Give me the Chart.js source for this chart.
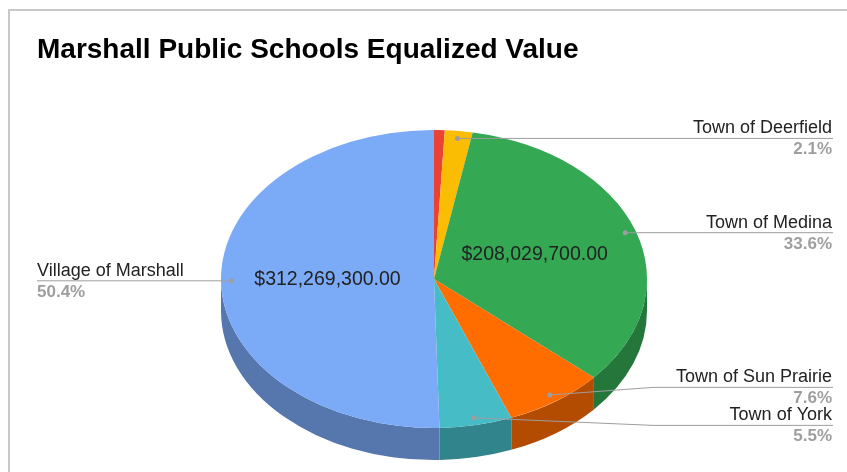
<!DOCTYPE html>
<html lang="en">
<head>
<meta charset="UTF-8">
<title>Marshall Public Schools Equalized Value</title>
<script src="https://cdn.jsdelivr.net/npm/chart.js"></script>
<style>
  body { margin: 0; background: #fff; }
  canvas { display: block; }
</style>
</head>
<body>
<canvas id="pie" width="847" height="472"></canvas>
<script>
// data, in sheet order (first slice starts at 12 o'clock, clockwise)
const chartTitle = 'Marshall Public Schools Equalized Value';
const categories = ['Other', 'Town of Deerfield', 'Town of Medina', 'Town of Sun Prairie', 'Town of York', 'Village of Marshall'];
const values = [5000000, 13000000, 208029700, 47100000, 34100000, 312269300];
const topColors = ['#EA4335', '#FBBC04', '#34A853', '#FF6D01', '#46BDC6', '#7BAAF7'];
const sideColors = ['#A32F25', '#B08403', '#24763A', '#B34C01', '#31848B', '#5677AD'];

// look of the tilted pie
const RX = 213, RY = 149, DEPTH = 32;
const FONT = '"Liberation Sans", Arial, sans-serif';
const LABEL_GAP = 38;

function tilt(chart) {
    const arc = chart.getDatasetMeta(0).data[0];
    const r = arc.outerRadius;
    return { cx: arc.x, cy: arc.y, r: r, sx: RX / r, sy: RY / r };
}

function money(v) {
    return '$' + v.toLocaleString('en-US', { minimumFractionDigits: 2, maximumFractionDigits: 2 });
}

const pie3d = {
    id: 'pie3d',
    beforeDraw(chart) {
        const ctx = chart.ctx;
        ctx.save();
        // frame of the sheet chart
        ctx.fillStyle = '#c8c8c8';
        ctx.fillRect(8, 9, chart.width - 8, 2);
        ctx.fillRect(8, 9, 2, chart.height - 9);
        // title
        ctx.fillStyle = '#000';
        ctx.font = 'bold 28px ' + FONT;
        ctx.textAlign = 'left';
        ctx.textBaseline = 'alphabetic';
        ctx.fillText(chartTitle, 37, 58);
        ctx.restore();
    },
    beforeDatasetsDraw(chart) {
        const ctx = chart.ctx;
        const t = tilt(chart);
        ctx.save();
        ctx.translate(t.cx, t.cy);
        ctx.scale(t.sx, t.sy);
        ctx.translate(-t.cx, -t.cy);
        const d = DEPTH / t.sy;
        // side walls, only the front half shows
        chart.getDatasetMeta(0).data.forEach((arc, i) => {
            const s = Math.max(arc.startAngle, 0);
            const e = Math.min(arc.endAngle, Math.PI);
            if (e <= s) return;
            ctx.beginPath();
            ctx.arc(t.cx, t.cy, t.r, s, e);
            ctx.arc(t.cx, t.cy + d, t.r, e, s, true);
            ctx.closePath();
            ctx.fillStyle = sideColors[i];
            ctx.fill();
        });
    },
    afterDatasetsDraw(chart) {
        const ctx = chart.ctx;
        ctx.restore();
        const t = tilt(chart);
        const meta = chart.getDatasetMeta(0);
        const total = values.reduce((a, b) => a + b, 0);
        const right = [], left = [];

        ctx.save();
        meta.data.forEach((arc, i) => {
            const pct = values[i] / total * 100;
            const mid = (arc.startAngle + arc.endAngle) / 2;
            const ex = Math.cos(mid), ey = Math.sin(mid);
            if (pct >= 20) {
                ctx.fillStyle = '#222';
                ctx.font = '19.5px ' + FONT;
                ctx.textAlign = 'center';
                ctx.textBaseline = 'middle';
                ctx.fillText(money(values[i]), t.cx + ex * t.r * 0.5 * t.sx, t.cy + ey * t.r * 0.5 * t.sy);
            }
            if (pct < 1) return;
            const item = {
                i: i, pct: pct,
                x: t.cx + ex * t.r * 0.95 * t.sx,
                y: t.cy + ey * t.r * 0.95 * t.sy
            };
            item.lineY = item.y;
            (ex >= 0 ? right : left).push(item);
        });

        // keep labels on one side from overlapping
        [right, left].forEach(list => {
            list.sort((a, b) => a.y - b.y);
            for (let k = 1; k < list.length; k++) {
                const diff = list[k].lineY - list[k - 1].lineY;
                if (diff < LABEL_GAP) {
                    const push = (LABEL_GAP - diff) / 2;
                    list[k - 1].lineY -= push;
                    list[k].lineY += push;
                }
            }
        });

        function drawLabel(item, side) {
            const kinkX = side === 'right' ? t.cx + RX + 6 : t.cx - RX - 6;
            const endX = side === 'right' ? 833 : 37;
            ctx.strokeStyle = '#9e9e9e';
            ctx.lineWidth = 1;
            ctx.beginPath();
            ctx.moveTo(item.x, item.y);
            ctx.lineTo(kinkX, item.lineY);
            ctx.lineTo(endX, item.lineY);
            ctx.stroke();
            ctx.fillStyle = '#9e9e9e';
            ctx.beginPath();
            ctx.arc(item.x, item.y, 2.5, 0, Math.PI * 2);
            ctx.fill();

            ctx.textAlign = side === 'right' ? 'right' : 'left';
            ctx.textBaseline = 'alphabetic';
            const tx = side === 'right' ? 832 : 37;
            ctx.fillStyle = '#222';
            ctx.font = '18px ' + FONT;
            ctx.fillText(categories[item.i], tx, item.lineY - 5);
            ctx.fillStyle = '#9e9e9e';
            ctx.font = 'bold 17px ' + FONT;
            ctx.fillText(item.pct.toFixed(1) + '%', tx, item.lineY + 16);
        }
        right.forEach(it => drawLabel(it, 'right'));
        left.forEach(it => drawLabel(it, 'left'));
        ctx.restore();
    }
};

new Chart(document.getElementById('pie'), {
    type: 'pie',
    data: {
        labels: categories,
        datasets: [{
            data: values,
            backgroundColor: topColors,
            borderWidth: 0,
            hoverOffset: 0
        }]
    },
    options: {
        responsive: false,
        animation: false,
        devicePixelRatio: 1,
        events: [],
        layout: { padding: { left: 285, right: 264, top: 130, bottom: 44 } },
        plugins: {
            legend: { display: false },
            tooltip: { enabled: false },
            title: { display: false }
        }
    },
    plugins: [pie3d]
});
</script>
</body>
</html>
